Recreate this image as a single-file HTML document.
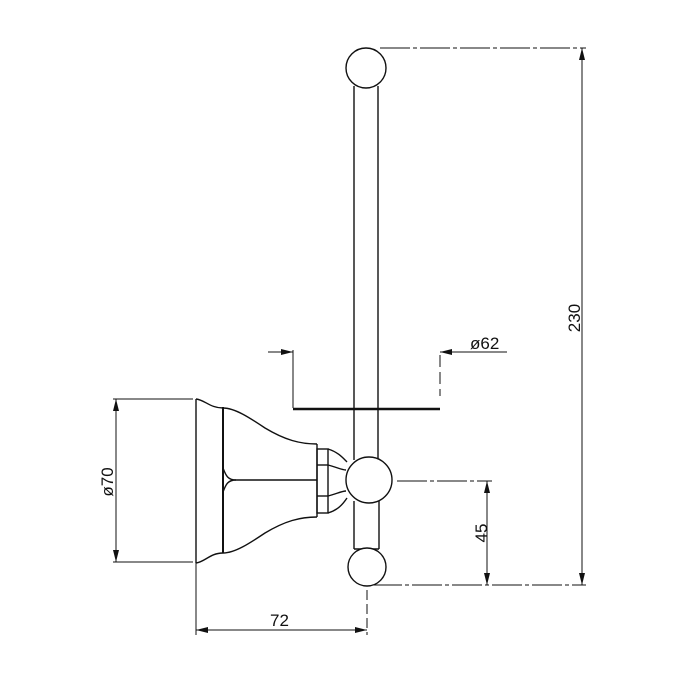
<!DOCTYPE html>
<html><head><meta charset="utf-8"><style>
html,body{margin:0;padding:0;background:#fff;}
svg{display:block;}
text{font-family:"Liberation Sans",sans-serif;font-size:17px;fill:#111;}
</style></head><body>
<svg width="700" height="700" viewBox="0 0 700 700" xmlns="http://www.w3.org/2000/svg">
<g fill="none" stroke="#111" stroke-width="1.4">
<circle cx="366" cy="68" r="20"/>
<line x1="354" y1="86" x2="354" y2="460"/>
<line x1="378" y1="86" x2="378" y2="460"/>
<line x1="293" y1="409" x2="440" y2="409" stroke-width="2.5"/>
<circle cx="369" cy="480" r="23" fill="#fff"/>
<line x1="354" y1="501" x2="354" y2="549"/>
<line x1="379" y1="501" x2="379" y2="549"/>
<line x1="354" y1="549" x2="379" y2="549"/>
<circle cx="367" cy="567" r="19" fill="#fff"/>
<line x1="196" y1="399" x2="196" y2="563"/>
<path d="M196,399 C205,400 210,408 223,408"/>
<path d="M196,563 C205,562 210,553 223,553"/>
<line x1="223" y1="407" x2="223" y2="553" stroke-width="2"/>
<path d="M223,408 C235,408 250,418 265,428 C285,440 300,444 317,444"/>
<path d="M223,553 C235,553 250,543 265,533 C285,521 300,517 317,517"/>
<path d="M223,468 C226,476 228,480 236,480 L317,480"/>
<path d="M223,492 C226,484 228,480 236,480"/>
<line x1="317" y1="444" x2="317" y2="517"/>
<rect x="317" y="449" width="11" height="64"/>
<line x1="317" y1="465" x2="328" y2="465"/>
<line x1="317" y1="496" x2="328" y2="496"/>
<path d="M328,449 C338,452 343,458 347,462"/>
<path d="M328,513 C338,510 343,504 347,498"/>
<path d="M328,465 C336,467 342,470 346,470"/>
<path d="M328,496 C336,494 342,491 346,491"/>
</g>
<g fill="none" stroke="#111" stroke-width="1">
<line x1="380" y1="48" x2="586" y2="48" stroke-dasharray="30 3 4 3"/>
<line x1="582" y1="48" x2="582" y2="585"/>
<line x1="372" y1="585" x2="586" y2="585" stroke-dasharray="30 3 4 3"/>
<line x1="397" y1="481" x2="492" y2="481" stroke-dasharray="30 3 4 3"/>
<line x1="487" y1="481" x2="487" y2="585"/>
<line x1="268" y1="352" x2="293" y2="352"/>
<line x1="293" y1="350" x2="293" y2="408"/>
<line x1="440" y1="352" x2="507" y2="352"/>
<line x1="440" y1="355" x2="440" y2="396" stroke-dasharray="12 5"/>
<line x1="113" y1="399" x2="193" y2="399"/>
<line x1="113" y1="562" x2="193" y2="562"/>
<line x1="116" y1="399" x2="116" y2="562"/>
<line x1="196" y1="563" x2="196" y2="635"/>
<line x1="367" y1="590" x2="367" y2="635" stroke-dasharray="10 4"/>
<line x1="196" y1="630" x2="367" y2="630"/>
</g>
<g fill="#111">
<polygon points="582,48 579,60 585,60"/>
<polygon points="582,585 579,573 585,573"/>
<polygon points="487,481 484,493 490,493"/>
<polygon points="487,585 484,573 490,573"/>
<polygon points="293,352 281,349 281,355"/>
<polygon points="440,352 452,349 452,355"/>
<polygon points="116,399 113,411 119,411"/>
<polygon points="116,562 113,550 119,550"/>
<polygon points="196,630 208,627 208,633"/>
<polygon points="367,630 355,627 355,633"/>
</g>
<text x="470" y="349">ø62</text>
<text x="270" y="626">72</text>
<text transform="translate(580,318) rotate(-90)" text-anchor="middle">230</text>
<text transform="translate(487,533) rotate(-90)" text-anchor="middle">45</text>
<text transform="translate(113,482) rotate(-90)" text-anchor="middle">ø70</text>
</svg>
</body></html>
